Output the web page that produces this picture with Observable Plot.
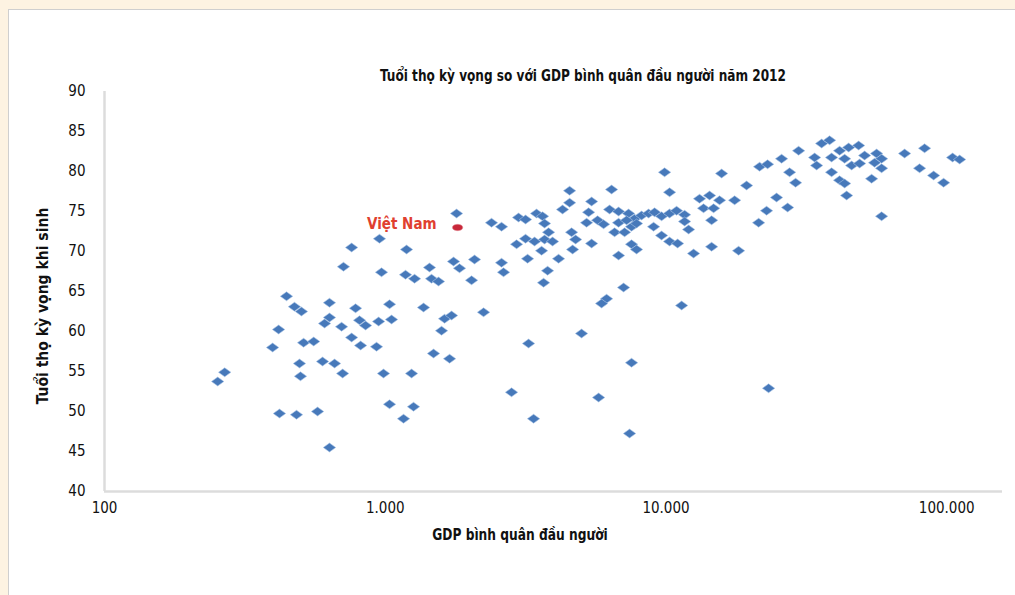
<!DOCTYPE html>
<html>
<head>
<meta charset="utf-8">
<script src="https://cdn.jsdelivr.net/npm/d3@7"></script>
<script src="https://cdn.jsdelivr.net/npm/@observablehq/plot@0.6"></script>
<style>
  html, body { margin: 0; padding: 0; background: #fdf3e2; }
  #wrap { position: relative; width: 1015px; height: 595px; overflow: hidden; background: #fdf3e2;
          font-family: "Liberation Sans Narrow", "DejaVu Sans Condensed", "Roboto Condensed", sans-serif; }
  #panel { position: absolute; left: 8px; top: 9px; width: 1020px; height: 600px; background: #fff; border: 1px solid #cfcfcf; }
  #chart { position: absolute; left: 0; top: 0; }
  .title { position: absolute; left: 583px; top: 66px; transform: translateX(-50%) scaleX(0.84); white-space: nowrap;
           font-weight: bold; font-size: 16px; color: #111; }
  .xtitle { position: absolute; left: 520px; top: 525px; transform: translateX(-50%) scaleX(0.85); white-space: nowrap;
            font-weight: bold; font-size: 16px; color: #111; }
  .ytitle { position: absolute; left: 42px; top: 306px; transform: translate(-50%, -50%) rotate(-90deg) scaleX(0.97); white-space: nowrap;
            font-weight: bold; font-size: 16px; color: #111; }
</style>
</head>
<body>
<div id="wrap">
  <div id="panel"></div>
  <div id="chart"></div>
  <div class="title">Tuổi thọ kỳ vọng so với GDP bình quân đầu người năm 2012</div>
  <div class="xtitle">GDP bình quân đầu người</div>
  <div class="ytitle">Tuổi thọ kỳ vọng khi sinh</div>
</div>
<script>
// GDP per capita (USD, log scale) and life expectancy at birth (years)
const gdp = [
  253, 268, 397, 417, 445, 475, 503, 420, 483, 574, 633, 495, 499, 512, 556, 598, 660, 705,
  633, 633, 608, 699, 759, 817, 931, 784, 810, 851, 947, 1053, 1036, 986, 1036, 710, 759, 954,
  970, 1261, 1162, 1241, 1486, 1695, 1369, 1587, 1627, 1723, 2240, 2818, 3376, 3240, 5004,
  1191, 1181, 1272, 1438, 1462, 1548, 1751, 1839, 2080, 2030, 2596, 2639, 1795,
  2391, 2596, 2985, 3161, 3459, 3634, 3694, 3818, 3161, 3403, 3694, 3945, 2937, 3214, 3605,
  4144, 3787, 3664, 4537, 4537, 4282, 4611, 4765, 4649, 5302, 5214, 5433, 5707, 5995, 5433,
  6401, 6297, 6778, 7357, 7727, 8185, 8670, 9108, 9645, 10300, 10910, 11650, 6561, 7121, 7540,
  6778, 7239, 7856, 9033, 9645, 10300, 11000, 11650, 12040, 6778, 7540, 7856, 12540,
  9886, 10300, 15780, 13170, 14300, 15520, 13610, 14780, 14540, 14540, 18140, 17560, 19370,
  21550, 23010, 25810, 24770, 27120, 22820, 21380, 29680, 27560, 28950,
  35840, 38260, 33840, 34400, 38890, 41530, 44730, 48550, 43290, 45840, 48950, 50990,
  38890, 41530, 43290, 44000, 56260, 58620, 55350, 58620, 54010, 58620,
  70790, 83410, 104950, 111160, 80050, 89800, 97480,
  7063, 6144, 5897, 11370, 7540, 5754, 7419, 23200
];
const lifeExp = [
  53.75, 54.9, 58.0, 60.25, 64.4, 63.1, 62.5, 49.75, 49.6, 50.0, 45.5, 56.0, 54.4, 58.6, 58.75, 56.25, 56.0, 54.75,
  63.6, 61.75, 61.0, 60.6, 59.25, 58.25, 58.1, 62.9, 61.4, 60.75, 61.25, 61.5, 63.4, 54.75, 50.9, 68.1, 70.5, 71.6,
  67.4, 50.6, 49.1, 54.75, 57.25, 56.6, 63.0, 60.1, 61.6, 62.0, 62.4, 52.4, 49.1, 58.5, 59.75,
  70.25, 67.1, 66.6, 68.0, 66.6, 66.25, 68.75, 67.9, 69.0, 66.4, 68.6, 67.4, 74.75,
  73.6, 73.1, 74.25, 74.0, 74.75, 74.4, 73.5, 72.4, 71.6, 71.25, 71.5, 71.25, 70.9, 69.1, 70.1,
  69.1, 67.6, 66.1, 77.6, 76.1, 75.25, 72.4, 71.5, 70.25, 74.9, 73.6, 76.25, 73.9, 73.4, 71.0,
  77.75, 75.25, 75.0, 74.75, 74.1, 74.5, 74.75, 74.9, 74.4, 74.75, 75.1, 74.6, 72.4, 72.4, 73.1,
  73.6, 73.9, 73.5, 73.1, 72.0, 71.25, 71.0, 73.75, 72.75, 69.5, 70.9, 70.25, 69.75,
  79.9, 77.4, 79.75, 76.6, 77.0, 76.4, 75.4, 75.4, 73.9, 70.6, 70.1, 76.4, 78.25,
  80.6, 80.9, 81.6, 76.75, 75.5, 75.1, 73.6, 82.6, 79.9, 78.6,
  83.5, 83.9, 81.75, 80.75, 81.75, 82.6, 83.0, 83.25, 81.6, 80.75, 81.0, 82.0,
  79.9, 78.9, 78.5, 77.0, 82.25, 81.6, 81.1, 80.4, 79.1, 74.4,
  82.25, 82.9, 81.75, 81.5, 80.4, 79.5, 78.6,
  65.5, 64.1, 63.5, 63.25, 56.1, 51.75, 47.25, 52.9
];
const vnName = ["Việt Nam"];
const vnGdp = [1810];
const vnLife = [73.0];
const xTicks = [100, 1000, 10000, 100000];
const yTicks = [40, 45, 50, 55, 60, 65, 70, 75, 80, 85, 90];

const points = gdp.map((g, i) => ({gdp: g, life: lifeExp[i]}));
const vn = vnName.map((n, i) => ({name: n, gdp: vnGdp[i], life: vnLife[i]}));

const viFormat = d3.formatLocale({decimal: ",", thousands: ".", grouping: [3], currency: ["", ""]}).format(",");

// flattened diamond symbol
const flatDiamond = {
  draw(ctx, size) {
    const r = Math.sqrt(size / Math.PI);
    const w = r, h = r * 0.72;
    ctx.moveTo(0, -h); ctx.lineTo(w, 0); ctx.lineTo(0, h); ctx.lineTo(-w, 0); ctx.closePath();
  }
};
const ellipse = {
  draw(ctx, size) {
    const r = Math.sqrt(size / Math.PI);
    const w = r, h = r * 0.62;
    ctx.moveTo(-w, 0);
    ctx.bezierCurveTo(-w, -h * 1.33, w, -h * 1.33, w, 0);
    ctx.bezierCurveTo(w, h * 1.33, -w, h * 1.33, -w, 0);
    ctx.closePath();
  }
};

const chart = Plot.plot({
  width: 1015,
  height: 595,
  marginLeft: 104,
  marginRight: 13,
  marginTop: 91,
  marginBottom: 104,
  style: {background: "transparent", fontFamily: '"Liberation Sans Narrow", "DejaVu Sans Condensed", sans-serif', fontSize: "15px", color: "#111"},
  x: {type: "log", domain: [100, 158000]},
  y: {domain: [40, 90]},
  marks: [
    Plot.axisY({ticks: yTicks, tickSize: 0, tickPadding: 19, label: null, fontSize: 15}),
    Plot.axisX({ticks: xTicks, tickSize: 0, tickPadding: 11, tickFormat: viFormat, label: null, fontSize: 15}),
    Plot.ruleX([100], {stroke: "#dcdcdc", strokeWidth: 2.5}),
    Plot.ruleY([40], {stroke: "#dcdcdc", strokeWidth: 2.5}),
    Plot.dot(points, {x: "gdp", y: "life", symbol: flatDiamond, r: 6.2, fill: "#4779ba", stroke: "#a9c4e6", strokeWidth: 0.6}),
    Plot.dot(vn, {x: "gdp", y: "life", symbol: ellipse, r: 5.2, fill: "#c8283a", stroke: "#e8a0a8", strokeWidth: 0.5}),
    Plot.text(vn, {x: "gdp", y: "life", text: "name", textAnchor: "end", dx: -21, dy: -3, fill: "#e0402f", fontWeight: "bold", fontSize: 15})
  ]
});
document.getElementById("chart").appendChild(chart);
</script>
</body>
</html>
